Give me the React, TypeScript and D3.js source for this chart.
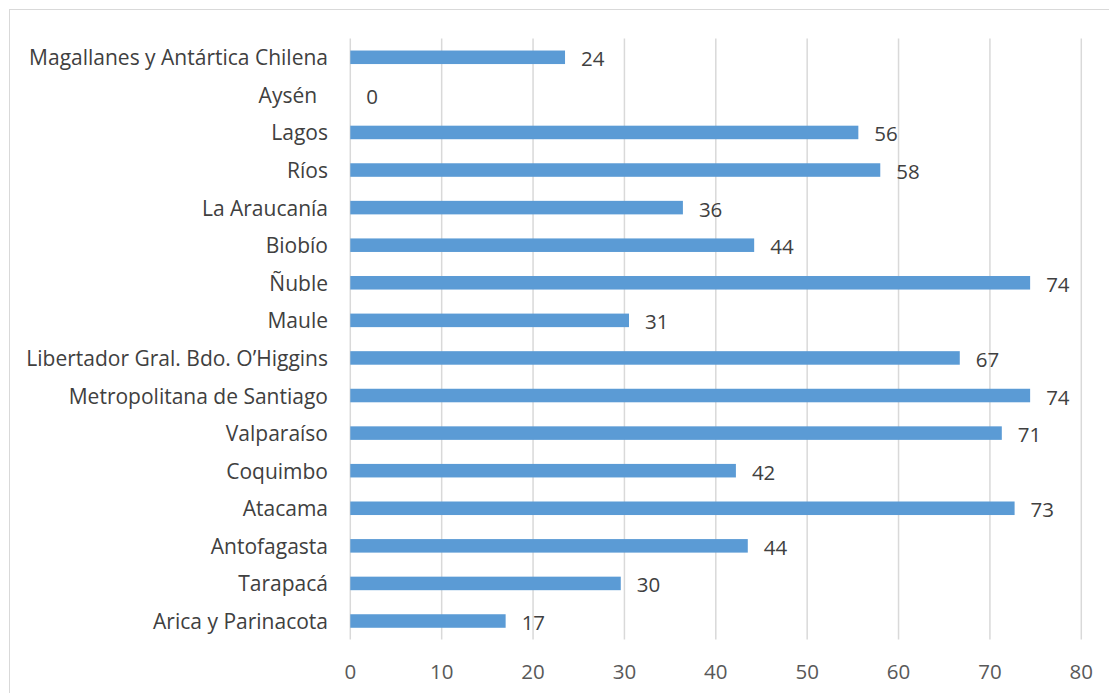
import React from "react";
import * as d3 from "d3";

const categories = [
  "Magallanes y Antártica Chilena",
  "Aysén  ",
  "Lagos",
  "Ríos",
  "La Araucanía",
  "Biobío",
  "Ñuble",
  "Maule",
  "Libertador Gral. Bdo. O’Higgins",
  "Metropolitana de Santiago",
  "Valparaíso",
  "Coquimbo",
  "Atacama",
  "Antofagasta",
  "Tarapacá",
  "Arica y Parinacota",
];
const values = [23.5, 0, 55.6, 58.0, 36.4, 44.2, 74.4, 30.5, 66.7, 74.4, 71.3, 42.2, 72.7, 43.5, 29.6, 17.0];
const xTicks = [0, 10, 20, 30, 40, 50, 60, 70, 80];

const W = 1109;
const H = 693;
const FONT = "'Open Sans', sans-serif";
const FS = 21;

export default function App() {
  const x = d3.scaleLinear().domain([0, 80]).range([350.3, 1081.3]);
  const y = d3
    .scaleBand<string>()
    .domain(categories)
    .range([38.5, 639.8])
    .paddingInner(0.64)
    .paddingOuter(0.32);
  const bw = y.bandwidth();

  return (
    <svg
      width={W}
      height={H}
      style={{ position: "absolute", left: 0, top: 0, background: "#fff" }}
    >
      <rect x={9.5} y={9.5} width={1300} height={900} fill="#fff" stroke="#D9D9D9" strokeWidth={1} />
      {xTicks.map((t) => (
        <g key={t}>
          <line x1={x(t)} x2={x(t)} y1={38.5} y2={639.5} stroke="#D9D9D9" strokeWidth={1.5} />
          <text
            x={x(t)}
            y={671}
            textAnchor="middle"
            dominantBaseline="central"
            fontFamily={FONT}
            fontSize={20.5}
            fill="#595959"
          >
            {t}
          </text>
        </g>
      ))}
      {categories.map((c, i) => {
        const yc = (y(c) as number) + bw / 2;
        return (
          <g key={c}>
            <rect
              x={x(0)}
              y={y(c)}
              width={x(values[i]) - x(0)}
              height={bw}
              fill="#5B9BD5"
            />
            <text
              x={328}
              y={yc}
              textAnchor="end"
              dominantBaseline="central"
              fontFamily={FONT}
              fontSize={FS}
              fill="#404040"
              style={{ whiteSpace: "pre" }}
            >
              {c}
            </text>
            <text
              x={x(values[i]) + 16}
              y={yc + 1}
              textAnchor="start"
              dominantBaseline="central"
              fontFamily={FONT}
              fontSize={20.5}
              fill="#404040"
            >
              {d3.format(".0f")(Math.round(values[i]))}
            </text>
          </g>
        );
      })}
    </svg>
  );
}
